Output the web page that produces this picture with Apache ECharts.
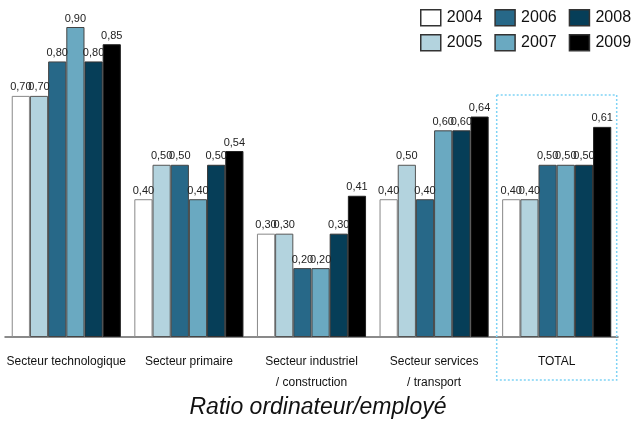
<!DOCTYPE html>
<html><head><meta charset="utf-8">
<script src="https://cdn.jsdelivr.net/npm/echarts@6/dist/echarts.min.js"></script>
<style>html,body{margin:0;padding:0;background:#fff}#c{width:635px;height:421px}</style>
</head><body><div id="c"></div>
<script>
const categories = ['Secteur technologique', 'Secteur primaire', 'Secteur industriel\n/ construction', 'Secteur services\n/ transport', 'TOTAL'];
const years = ['2004', '2005', '2006', '2007', '2008', '2009'];
const v2004 = [0.70, 0.40, 0.30, 0.40, 0.40];
const v2005 = [0.70, 0.50, 0.30, 0.50, 0.40];
const v2006 = [0.80, 0.50, 0.20, 0.40, 0.50];
const v2007 = [0.90, 0.40, 0.20, 0.60, 0.50];
const v2008 = [0.80, 0.50, 0.30, 0.60, 0.50];
const v2009 = [0.85, 0.54, 0.41, 0.64, 0.61];
const values = [v2004, v2005, v2006, v2007, v2008, v2009];
const colors = ['#ffffff', '#b3d3de', '#276888', '#6aa9c1', '#063e58', '#000000'];
const borders = ['#888888', '#555555', '#444444', '#444444', '#333333', '#222222'];
const titleText = 'Ratio ordinateur/employé';

const sans = "'Liberation Sans', Arial, sans-serif";
const chart = echarts.init(document.getElementById('c'));
const series = years.map((y, i) => ({
  name: y, type: 'bar', data: values[i],
  barGap: '0%', barCategoryGap: '11%',
  itemStyle: { color: colors[i], borderColor: borders[i], borderWidth: 1 },
  label: { show: true, position: 'top', distance: 3, color: '#222', fontFamily: sans, fontSize: 11,
    formatter: p => p.value.toFixed(2).replace('.', ',') }
}));
const legendCommon = {
  orient: 'horizontal', left: 420, itemWidth: 20, itemHeight: 16, itemGap: 12,
  textStyle: { fontFamily: sans, fontSize: 16, color: '#111', padding: [0, 0, 0, 1] },
  itemStyle: { borderColor: '#333', borderWidth: 1.5 },
  icon: 'rect', padding: 0, selectedMode: false
};
chart.setOption({
  animation: false,
  grid: { left: 5, right: 17, top: 27, bottom: 84, containLabel: false },
  legend: [
    Object.assign({ top: 9, data: ['2004', '2006', '2008'] }, legendCommon),
    Object.assign({ top: 34, data: ['2005', '2007', '2009'] }, legendCommon)
  ],
  title: { text: titleText, left: 313, textAlign: 'center', top: 391,
    textStyle: { fontFamily: sans, fontStyle: 'italic', fontWeight: 'normal', fontSize: 23, color: '#111' } },
  xAxis: { type: 'category', data: categories,
    axisLine: { lineStyle: { color: '#666', width: 1.5 } }, axisTick: { show: false },
    axisLabel: { interval: 0, margin: 14, fontFamily: sans, fontSize: 12, lineHeight: 21, color: '#111', align: 'center' } },
  yAxis: { type: 'value', min: 0, max: 0.9, show: false, splitLine: { show: false } },
  series: series
});
// dotted highlight box around TOTAL, positioned from the axis scales
const cx = chart.convertToPixel({ xAxisIndex: 0 }, 'TOTAL');
const yTop = chart.convertToPixel({ yAxisIndex: 0 }, 0.70);
const y0 = chart.convertToPixel({ yAxisIndex: 0 }, 0);
chart.setOption({ graphic: [{ type: 'rect', z: 100, silent: true,
  shape: { x: cx - 60, y: yTop - 1, width: 120, height: (y0 - yTop) + 44 },
  style: { fill: 'none', stroke: '#7fd3f5', lineWidth: 1.5, lineDash: [2, 2] } }] });
</script></body></html>
